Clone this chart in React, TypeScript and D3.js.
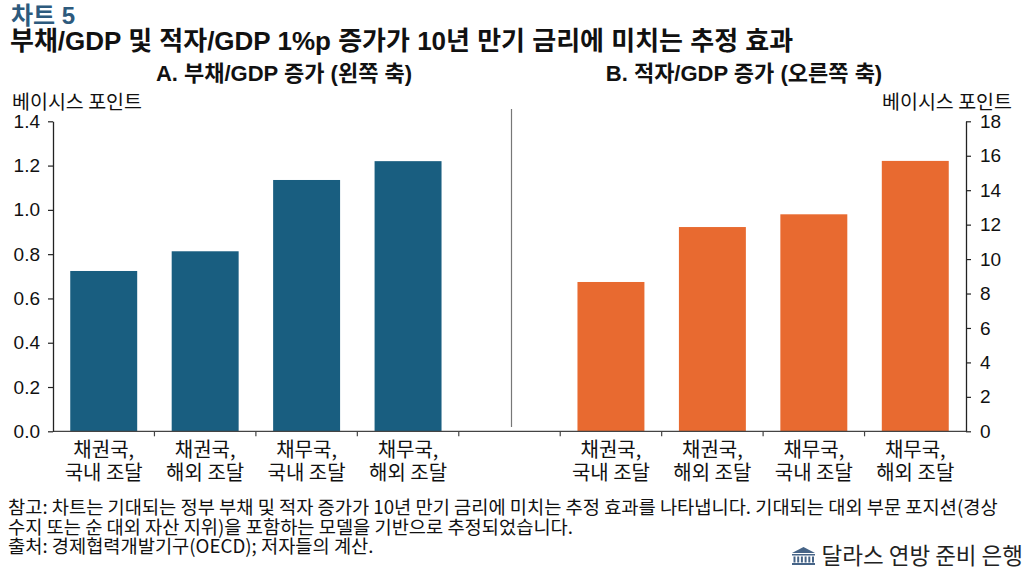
import { useEffect, useRef } from "react";
import * as d3 from "d3";

// ─── Data ────────────────────────────────────────────────────────────────────
const categoryLines: [string, string][] = [
  ["채권국,", "국내 조달"],
  ["채권국,", "해외 조달"],
  ["채무국,", "국내 조달"],
  ["채무국,", "해외 조달"],
];
const debtEffect = [0.724, 0.813, 1.135, 1.22]; // left axis
const deficitEffect = [8.67, 11.86, 12.6, 15.7]; // right axis
const leftTicks = [0, 0.2, 0.4, 0.6, 0.8, 1.0, 1.2, 1.4];
const rightTicks = [0, 2, 4, 6, 8, 10, 12, 14, 16, 18];

const chartLabel = "차트 5";
const title = "부채/GDP 및 적자/GDP 1%p 증가가 10년 만기 금리에 미치는 추정 효과";
const panelA = "A. 부채/GDP 증가 (왼쪽 축)";
const panelB = "B. 적자/GDP 증가 (오른쪽 축)";
const unitLabel = "베이시스 포인트";
const notes = [
  "참고: 차트는 기대되는 정부 부채 및 적자 증가가 10년 만기 금리에 미치는 추정 효과를 나타냅니다. 기대되는 대외 부문 포지션(경상",
  "수지 또는 순 대외 자산 지위)을 포함하는 모델을 기반으로 추정되었습니다.",
  "출처: 경제협력개발기구(OECD); 저자들의 계산.",
];
const brand = "달라스 연방 준비 은행";

// slots: 4 left bars, a gap, 4 right bars
const slots = ["A0", "A1", "A2", "A3", "gap", "B0", "B1", "B2", "B3"];

const FONT = "'Liberation Sans', Arial, 'Noto Sans CJK KR', sans-serif";
const KFONT = "'Noto Sans CJK KR', sans-serif";
const BLUE = "rgb(25,94,128)";
const ORANGE = "rgb(232,106,48)";

export default function App() {
  const svgRef = useRef<SVGSVGElement>(null);

  useEffect(() => {
    if (!svgRef.current) return;
    const svg = d3.select(svgRef.current);
    svg.selectAll("*").remove();

    const width = 1024;
    const left = 53;
    const right = 966;
    const top = 121.3;
    const bottom = 431.3;

    const x = d3
      .scaleBand<string>()
      .domain(slots)
      .range([left, right])
      .paddingInner(0.34)
      .paddingOuter(0.17);
    const step = x.step();

    const yL = d3.scaleLinear().domain([0, 1.4]).range([bottom, top]);
    const yR = d3.scaleLinear().domain([0, 18]).range([bottom, top]);

    // ── Headings ───────────────────────────────────────────────────────────
    svg
      .append("text")
      .attr("x", 11)
      .attr("y", 24)
      .attr("font-family", FONT)
      .attr("font-size", 24)
      .attr("font-weight", "bold")
      .attr("fill", "rgb(45,90,125)")
      .text(chartLabel);
    svg
      .append("text")
      .attr("x", 10)
      .attr("y", 50)
      .attr("font-family", FONT)
      .attr("font-size", 26)
      .attr("font-weight", "bold")
      .attr("fill", "#111")
      .text(title);

    [
      { t: panelA, cx: 284 },
      { t: panelB, cx: 744 },
    ].forEach((p) =>
      svg
        .append("text")
        .attr("x", p.cx)
        .attr("y", 81)
        .attr("text-anchor", "middle")
        .attr("font-family", FONT)
        .attr("font-size", 22)
        .attr("font-weight", "bold")
        .attr("fill", "#111")
        .text(p.t)
    );

    svg
      .append("text")
      .attr("x", 12)
      .attr("y", 109)
      .attr("font-family", KFONT)
      .attr("font-size", 19.5)
      .attr("fill", "#111")
      .text(unitLabel);
    svg
      .append("text")
      .attr("x", 1012)
      .attr("y", 109)
      .attr("text-anchor", "end")
      .attr("font-family", KFONT)
      .attr("font-size", 19.5)
      .attr("fill", "#111")
      .text(unitLabel);

    // ── Bars ───────────────────────────────────────────────────────────────
    svg
      .append("g")
      .selectAll("rect")
      .data(debtEffect)
      .join("rect")
      .attr("x", (_, i) => x(slots[i]) as number)
      .attr("width", x.bandwidth())
      .attr("y", (d) => yL(d))
      .attr("height", (d) => yL(0) - yL(d))
      .attr("fill", BLUE);

    svg
      .append("g")
      .selectAll("rect")
      .data(deficitEffect)
      .join("rect")
      .attr("x", (_, i) => x(slots[i + 5]) as number)
      .attr("width", x.bandwidth())
      .attr("y", (d) => yR(d))
      .attr("height", (d) => yR(0) - yR(d))
      .attr("fill", ORANGE);

    // ── Divider ────────────────────────────────────────────────────────────
    const mid = (x("gap") as number) + x.bandwidth() / 2 + 2;
    svg
      .append("line")
      .attr("x1", mid)
      .attr("x2", mid)
      .attr("y1", 109)
      .attr("y2", 427)
      .attr("stroke", "#777")
      .attr("stroke-width", 1.2);

    // ── X axis ─────────────────────────────────────────────────────────────
    const xAxis = svg.append("g");
    xAxis
      .append("line")
      .attr("x1", left)
      .attr("x2", right)
      .attr("y1", bottom)
      .attr("y2", bottom)
      .attr("stroke", "#444")
      .attr("stroke-width", 1.3);
    xAxis
      .selectAll("line.tick")
      .data(d3.range(1, slots.length))
      .join("line")
      .attr("class", "tick")
      .attr("x1", (i) => left + i * step)
      .attr("x2", (i) => left + i * step)
      .attr("y1", bottom)
      .attr("y2", bottom + 5)
      .attr("stroke", "#444")
      .attr("stroke-width", 1.2);

    const catLabels = [0, 1, 2, 3, 5, 6, 7, 8].map((s, k) => ({
      cx: (x(slots[s]) as number) + x.bandwidth() / 2,
      lines: categoryLines[k % 4],
    }));
    const lab = svg
      .append("g")
      .selectAll("text")
      .data(catLabels)
      .join("text")
      .attr("text-anchor", "middle")
      .attr("font-family", KFONT)
      .attr("font-size", 20)
      .attr("fill", "#111");
    lab
      .append("tspan")
      .attr("x", (d) => d.cx)
      .attr("y", 457)
      .text((d) => d.lines[0]);
    lab
      .append("tspan")
      .attr("x", (d) => d.cx)
      .attr("y", 480)
      .text((d) => d.lines[1]);

    // ── Y axes ─────────────────────────────────────────────────────────────
    const leftAxis = svg
      .append("g")
      .attr("transform", `translate(${left},0)`)
      .call(
        d3
          .axisLeft(yL)
          .tickValues(leftTicks)
          .tickFormat(d3.format(".1f"))
          .tickSizeInner(5)
          .tickSizeOuter(0)
          .tickPadding(8)
      );
    const rightAxis = svg
      .append("g")
      .attr("transform", `translate(${right},0)`)
      .call(
        d3
          .axisRight(yR)
          .tickValues(rightTicks)
          .tickFormat(d3.format("d"))
          .tickSizeInner(5)
          .tickSizeOuter(0)
          .tickPadding(9)
      );
    [leftAxis, rightAxis].forEach((a) => {
      a.select(".domain").attr("stroke", "#222").attr("stroke-width", 1.3);
      a.selectAll(".tick line").attr("stroke", "#222").attr("stroke-width", 1.2);
      a.selectAll(".tick text")
        .attr("font-family", FONT)
        .attr("font-size", 19)
        .attr("fill", "#111");
    });

    // ── Footnotes ──────────────────────────────────────────────────────────
    svg
      .append("g")
      .selectAll("text")
      .data(notes)
      .join("text")
      .attr("x", 8)
      .attr("y", (_, i) => 514 + i * 19.5)
      .attr("font-family", KFONT)
      .attr("font-size", 18.7)
      .attr("fill", "#111")
      .text((d) => d);

    // ── Brand ──────────────────────────────────────────────────────────────
    svg
      .append("text")
      .attr("x", width - 1)
      .attr("y", 564)
      .attr("text-anchor", "end")
      .attr("font-family", KFONT)
      .attr("font-size", 22.5)
      .attr("fill", "#222")
      .text(brand);

    const icon = svg.append("g").attr("transform", "translate(792,547)").attr("fill", "rgb(70,100,135)");
    icon.append("path").attr("d", "M0,6 L11.5,0 L23,6 Z");
    icon.append("rect").attr("x", 0).attr("y", 7).attr("width", 23).attr("height", 1.5);
    d3.range(6).forEach((i) =>
      icon.append("rect").attr("x", 1.5 + i * 3.7).attr("y", 9.5).attr("width", 2).attr("height", 6)
    );
    icon.append("rect").attr("x", 0).attr("y", 16).attr("width", 23).attr("height", 2);
  }, []);

  return (
    <div style={{ position: "absolute", left: 0, top: 0 }}>
      <svg ref={svgRef} width="1024" height="571" viewBox="0 0 1024 571" style={{ display: "block", background: "#fff" }} />
    </div>
  );
}
